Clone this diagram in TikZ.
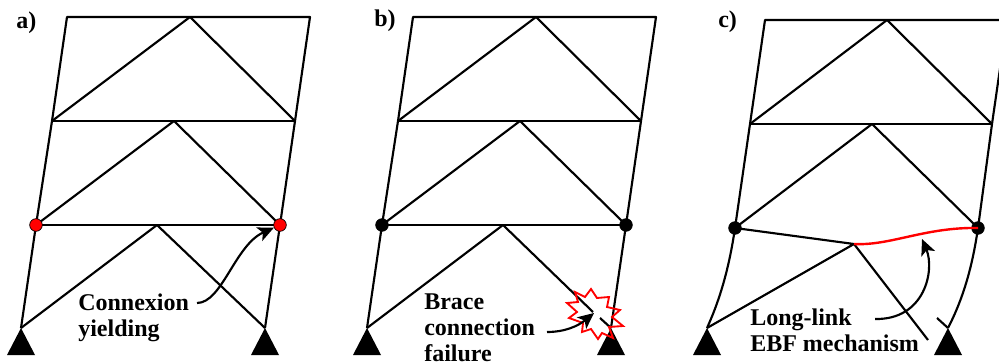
\documentclass[tikz,border=0pt]{standalone}
\usepackage{fontspec}
\setmainfont{Liberation Serif}
\usetikzlibrary{arrows.meta}
\definecolor{myRed}{HTML}{FF0000}

\begin{document}
\begin{tikzpicture}[
  x=0.75pt, y=-0.75pt,
  bar/.style={draw=black, line width=1.6pt, line join=round},
  arr/.style={-{Stealth[length=12pt, width=11pt, inset=3pt]}, line width=1.6pt, black},
  joint/.style={circle, draw=black, fill=black, line width=0.5pt, inner sep=0pt, minimum size=9.5pt},
  hinge/.style={joint, fill=myRed},
  lbl/.style={font=\fontsize{18}{19.5}\selectfont\bfseries, align=left, inner sep=0pt, anchor=base west}
]
\useasboundingbox (0,0) rectangle (999,363);
\clip (0,0) rectangle (999,363);

% frames a and b
\foreach \p/\dx in {a/0, b/346} {
  \coordinate (\p tl) at (67+\dx,17);
  \coordinate (\p tr) at (310+\dx,17);
  \coordinate (\p tm) at (190+\dx,17);
  \coordinate (\p ml) at (52+\dx,121);
  \coordinate (\p mr) at (295+\dx,121);
  \coordinate (\p mm) at (174+\dx,121);
  \coordinate (\p ll) at (36+\dx,225);
  \coordinate (\p lr) at (280+\dx,225);
  \coordinate (\p lm) at (157+\dx,225);
  \coordinate (\p bl) at (21+\dx,328);
  \coordinate (\p br) at (265+\dx,328);
  \draw[bar] (\p bl) -- (\p ll) -- (\p ml) -- (\p tl) -- (\p tr) -- (\p mr) -- (\p lr) -- (\p br);
  \draw[bar] (\p ml) -- (\p mr);
  \draw[bar] (\p ll) -- (\p lr);
  \draw[bar] (\p ml) -- (\p tm) -- (\p mr);
  \draw[bar] (\p ll) -- (\p mm) -- (\p lr);
  \draw[bar] (\p bl) -- (\p lm);
}
\draw[bar] (alm) -- (abr);

% broken brace of frame b
\coordinate (bcut1) at (593,312);
\coordinate (bcut2) at (600,318);
\draw[bar] (blm) -- (bcut1);
\draw[bar] (bcut2) -- (bbr);

% frame c
\coordinate (ctl) at (765,20);
\coordinate (ctr) at (1007,20);
\coordinate (ctm) at (887,20);
\coordinate (cml) at (750,124);
\coordinate (cmr) at (992,124);
\coordinate (cmm) at (872,124);
\coordinate (cll) at (735,228);
\coordinate (clr) at (978,228);
\coordinate (clm) at (854,244);
\coordinate (cbl) at (707,328);
\coordinate (cbr) at (948,328);
\coordinate (cend) at (928,340);
\coordinate (cstub) at (937,318);
\draw[bar] (cll) -- (cml) -- (ctl) -- (ctr) -- (cmr) -- (clr);
\draw[bar] (cml) -- (cmr);
\draw[bar] (cml) -- (ctm) -- (cmr);
\draw[bar] (cll) -- (cmm) -- (clr);
\draw[bar] (cll) -- (clm) -- (cbl);
\draw[bar] (clm) -- (cend);
\draw[bar] (cstub) -- (cbr);
\draw[bar] (cll) .. controls (730,262) and (722,295) .. (cbl);
\draw[bar] (clr) .. controls (973,262) and (965,295) .. (cbr);

% supports
\foreach \s in {abl, abr, bbl, bbr, cbl, cbr} {
  \fill[black] (\s) -- ++(-14,27) -- ++(28,0) -- cycle;
}

% joints
\node[hinge] (ha1) at (all) {};
\node[hinge] (ha2) at (alr) {};
\node[joint] (hb1) at (bll) {};
\node[joint] (hb2) at (blr) {};
\node[joint] (hc1) at (cll) {};
\node[joint] (hc2) at (clr) {};

% red link
\draw[myRed, line width=1.8pt] (clm) .. controls (890,246) and (925,227) .. (clr);

% failure burst
\draw[myRed, line width=1.4pt, line join=miter]
  (575,292) -- (585,297) -- (591,289) -- (597,298) -- (609,297) -- (607,307)
  -- (620,310) -- (612,317) -- (623,326) -- (609,327) -- (613,338) -- (602,333)
  -- (598,339) -- (591,329) -- (582,332) -- (583,323) -- (569,318) -- (577,312)
  -- (567,303) -- (578,302) -- cycle;

% labels
\node[lbl] (la) at (16,29) {a)};
\node[lbl] (lb) at (374,27) {b)};
\node[lbl] (lc) at (718,28) {c)};
\node[lbl] (ta) at (78,336) {Connexion\\yielding};
\node[lbl] (tb) at (424,361) {Brace\\connection\\failure};
\node[lbl] (tc) at (750,351) {Long-link\\EBF mechanism};

% pointers
\coordinate (pa) at (197,303);
\coordinate (pb) at (547,332);
\coordinate (pc) at (875,319);
\draw[arr] (pa) .. controls (222,303) and (235,245) .. (ha2);
\draw[arr] (pb) .. controls (565,332) and (578,326) .. (594,313);
\draw[arr] (pc) .. controls (925,320) and (935,270) .. (922,239);
\end{tikzpicture}
\end{document}
